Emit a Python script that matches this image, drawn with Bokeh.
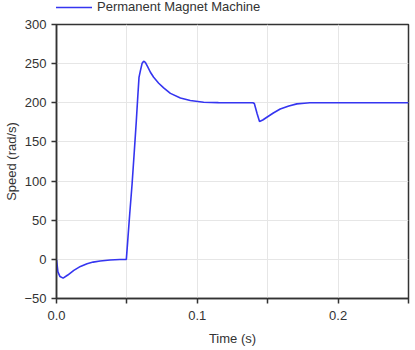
from bokeh.plotting import figure
from bokeh.layouts import column
from bokeh.models import FixedTicker, Legend, LegendItem, NumeralTickFormatter
from bokeh.embed import file_html
from bokeh.resources import INLINE

time_s = [0.0, 0.001, 0.0025, 0.0047, 0.008, 0.0123, 0.017, 0.0217, 0.026, 0.031, 0.038, 0.045, 0.0496,
          0.0506, 0.052, 0.0537, 0.0553, 0.0567, 0.0577, 0.0586, 0.0596, 0.0608, 0.0619, 0.0631, 0.0648,
          0.0667, 0.069, 0.0726, 0.0761, 0.0809, 0.088, 0.095, 0.1045, 0.115, 0.13, 0.1395, 0.1405,
          0.1425, 0.1442, 0.1465, 0.1494, 0.154, 0.1589, 0.165, 0.1707, 0.176, 0.180, 0.19, 0.21, 0.23, 0.25]
speed = [0.0, -16.0, -22.0, -24.0, -20.0, -14.0, -9.0, -5.5, -3.5, -2.0, -0.8, -0.2, 0.0,
         24.0, 58.0, 96.5, 139.0, 177.0, 207.0, 232.5, 241.0, 250.4, 253.0, 251.7, 246.0,
         239.0, 232.6, 225.0, 219.0, 212.0, 206.0, 203.0, 200.7, 200.2, 200.0, 200.0, 199.0,
         186.0, 176.0, 178.0, 181.5, 187.0, 192.0, 196.0, 198.6, 199.5, 200.0, 200.0, 200.0, 200.0, 200.0]

x_major = [0.0, 0.1, 0.2]
x_minor = [0.05, 0.15, 0.25]
y_ticks = [-50, 0, 50, 100, 150, 200, 250, 300]
series_name = "Permanent Magnet Machine"

FONT = "Liberation Sans"
TXT = "#333333"
LINE_COLOR = "#3535f0"

# legend strip (its line renderer sits far outside the visible range; only its legend glyph shows)
lg = figure(width=415, height=15, output_backend="svg", toolbar_location=None,
            x_axis_type=None, y_axis_type=None, x_range=(0, 1), y_range=(5000, 5001),
            min_border=0, min_border_left=0, min_border_right=0, min_border_top=0, min_border_bottom=0)
lg.outline_line_color = None
lg.grid.visible = False
lr = lg.line(time_s, speed, line_color=LINE_COLOR, line_width=1.6)
legend = Legend(items=[LegendItem(label=series_name, renderers=[lr])],
                location=(-1, 1), border_line_color=None, background_fill_alpha=0,
                padding=0, margin=0, glyph_width=37, glyph_height=12, label_standoff=5,
                label_text_font=FONT, label_text_font_size="13px", label_text_color=TXT,
                label_height=12)
lg.add_layout(legend)

p = figure(width=415, height=335, output_backend="svg", toolbar_location=None,
           x_range=(0, 0.25), y_range=(-50, 300),
           min_border_left=56, min_border_right=7, min_border_top=9, min_border_bottom=52)
p.background_fill_color = "white"
p.border_fill_color = "white"
p.outline_line_color = "#333333"
p.outline_line_width = 1.5

r = p.line(time_s, speed, line_color=LINE_COLOR, line_width=1.6)

p.xaxis.ticker = FixedTicker(ticks=x_major, minor_ticks=x_minor)
p.xaxis.formatter = NumeralTickFormatter(format="0.0")
p.yaxis.ticker = FixedTicker(ticks=y_ticks)
p.xaxis.axis_label = "Time (s)"
p.yaxis.axis_label = "Speed (rad/s)"
for ax in (p.xaxis, p.yaxis):
    ax.axis_label_text_font = FONT
    ax.axis_label_text_font_style = "normal"
    ax.axis_label_text_font_size = "13px"
    ax.axis_label_text_color = TXT
    ax.major_label_text_font = FONT
    ax.major_label_text_font_size = "13px"
    ax.major_label_text_color = TXT
    ax.axis_line_color = "#333333"
    ax.axis_line_width = 1.5
    ax.major_tick_line_color = "#333333"
    ax.major_tick_line_width = 1.5
    ax.major_tick_out = 5
    ax.major_tick_in = 0
    ax.minor_tick_line_color = "#333333"
    ax.minor_tick_line_width = 1.5
    ax.minor_tick_out = 5
    ax.minor_tick_in = 0
p.yaxis.minor_tick_line_color = None
p.xaxis.major_label_standoff = 7
p.yaxis.major_label_standoff = 5
p.xaxis.axis_label_standoff = 8
p.yaxis.axis_label_standoff = 2

p.xgrid.grid_line_color = "#e6e6e6"
p.xgrid.minor_grid_line_color = "#e6e6e6"
p.ygrid.grid_line_color = "#e6e6e6"

layout = column(lg, p, spacing=0)
open("out.html", "w").write(file_html(layout, INLINE))
